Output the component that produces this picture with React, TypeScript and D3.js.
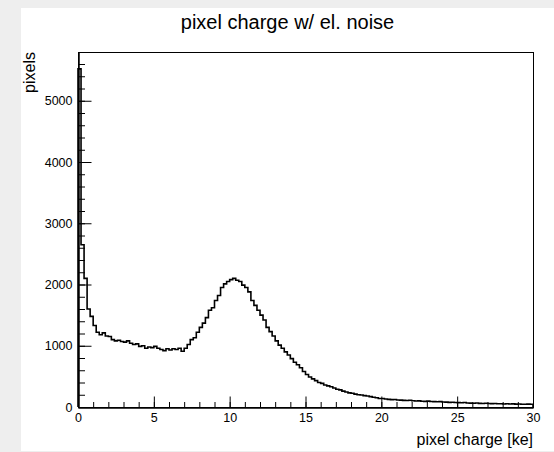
import { useEffect, useRef } from "react";
import * as d3 from "d3";

const W = 554;
const H = 452;
const X_MIN = 0;
const X_MAX = 30;
const BIN_WIDTH = 0.2;

// pixel counts per 0.2 ke bin, 0 -> 30 ke
const counts = [
  5520, 2650, 2100, 1600, 1480, 1330, 1220, 1180, 1210, 1160,
  1150, 1100, 1080, 1090, 1070, 1060, 1080, 1040, 1020, 1030,
  990, 1000, 960, 980, 970, 990, 960, 940, 920, 950,
  930, 950, 940, 960, 910, 960, 1020, 1100, 1130, 1220,
  1300, 1370, 1460, 1580, 1620, 1740, 1820, 1950, 2010, 2050,
  2080, 2100, 2070, 2050, 1990, 1950, 1880, 1740, 1660, 1580,
  1500, 1420, 1300, 1230, 1160, 1080, 1010, 960, 900, 850,
  790, 730, 690, 640, 580, 530, 490, 460, 430, 400,
  385, 360, 345, 330, 310, 290, 280, 260, 245, 230,
  225, 210, 200, 195, 185, 180, 170, 160, 150, 140,
  140, 130, 125, 120, 122, 115, 112, 108, 105, 110,
  102, 98, 100, 95, 92, 96, 90, 88, 85, 87,
  82, 80, 76, 78, 74, 72, 70, 73, 66, 64,
  62, 65, 60, 58, 61, 56, 55, 57, 52, 54,
  50, 52, 49, 51, 47, 49, 46, 45, 47, 44,
];

const xMajorTicks = [0, 5, 10, 15, 20, 25, 30];
const xMinorTicks = d3.range(0, 31, 1);
const yMajorTicks = [0, 1000, 2000, 3000, 4000, 5000];
const yMinorTicks = d3.range(0, 5800, 200);

const titleText = "pixel charge w/ el. noise";
const xTitle = "pixel charge [ke]";
const yTitle = "pixels";

const FONT = "'Liberation Sans', Arial, Helvetica, sans-serif";

export default function App() {
  const svgRef = useRef<SVGSVGElement>(null);

  useEffect(() => {
    const svg = d3.select(svgRef.current);
    svg.selectAll("*").remove();

    const left = 78, right = 533, top = 52, bottom = 407;
    const yMax = (d3.max(counts) as number) * 1.05;

    const x = d3.scaleLinear().domain([X_MIN, X_MAX]).range([left, right]);
    const y = d3.scaleLinear().domain([0, yMax]).range([bottom, top]);

    // page + canvas
    svg.append("rect").attr("width", W).attr("height", H).attr("fill", "#eeeeee");
    svg.append("rect").attr("x", 21).attr("y", 8).attr("width", W - 21).attr("height", 443).attr("fill", "#ffffff");

    // title
    svg.append("text")
      .attr("x", 287.5).attr("y", 29)
      .attr("text-anchor", "middle")
      .style("font-family", FONT).style("font-size", "20px")
      .text(titleText);

    // histogram outline
    const pts: [number, number][] = [[x(X_MIN), y(0)]];
    counts.forEach((c, i) => {
      pts.push([x(i * BIN_WIDTH), y(c)]);
      pts.push([x((i + 1) * BIN_WIDTH), y(c)]);
    });
    pts.push([x(X_MAX), y(0)]);
    svg.append("path")
      .attr("d", d3.line()(pts))
      .attr("fill", "none")
      .attr("stroke", "#000")
      .attr("stroke-width", 1.6)
      .attr("stroke-linejoin", "miter");

    const fmt = d3.format("d");

    // y axis
    const yMinorAxis = d3.axisLeft(y).tickValues(yMinorTicks).tickSize(-6.5).tickFormat(() => "").tickSizeOuter(0);
    const yAxis = d3.axisLeft(y).tickValues(yMajorTicks).tickSize(-13).tickPadding(6).tickSizeOuter(0).tickFormat((d) => fmt(d as number));
    svg.append("g").attr("transform", `translate(${left + 0.5},0)`).call(yMinorAxis);
    const gy = svg.append("g").attr("transform", `translate(${left + 0.5},0)`).call(yAxis);
    gy.selectAll("text").style("font-family", FONT).style("font-size", "12.5px").attr("fill", "#000");

    // x axis
    const xMinorAxis = d3.axisBottom(x).tickValues(xMinorTicks).tickSize(-5.5).tickFormat(() => "").tickSizeOuter(0);
    const xAxis = d3.axisBottom(x).tickValues(xMajorTicks).tickSize(-11).tickPadding(6).tickSizeOuter(0).tickFormat((d) => fmt(d as number));
    svg.append("g").attr("transform", `translate(0,${bottom + 0.5})`).call(xMinorAxis);
    const gx = svg.append("g").attr("transform", `translate(0,${bottom + 0.5})`).call(xAxis);
    gx.selectAll("text").style("font-family", FONT).style("font-size", "12.5px").attr("fill", "#000");

    svg.selectAll(".domain").attr("stroke", "#000");
    svg.selectAll(".tick line").attr("stroke", "#000");

    // frame
    svg.append("rect")
      .attr("x", left + 0.5).attr("y", top + 0.5)
      .attr("width", right - left).attr("height", bottom - top)
      .attr("fill", "none").attr("stroke", "#000").attr("stroke-width", 1);

    // axis titles
    svg.append("text")
      .attr("x", right).attr("y", 445)
      .attr("text-anchor", "end")
      .style("font-family", FONT).style("font-size", "16px")
      .text(xTitle);

    svg.append("text")
      .attr("transform", `translate(35,${top}) rotate(-90)`)
      .attr("text-anchor", "end")
      .style("font-family", FONT).style("font-size", "16px")
      .text(yTitle);
  });

  return (
    <div style={{ position: "absolute", left: 0, top: 0, width: W, height: H }}>
      <svg ref={svgRef} width={W} height={H} style={{ display: "block" }}></svg>
    </div>
  );
}
